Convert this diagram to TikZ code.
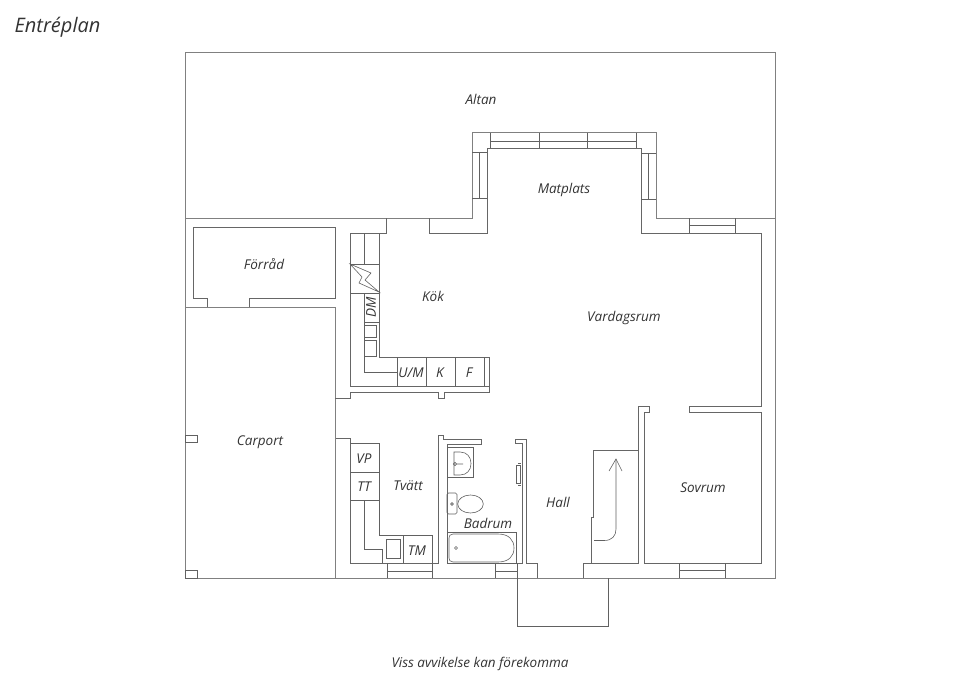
\documentclass[tikz,border=0pt]{standalone}
\usepackage{fontspec}
\setmainfont{Open Sans}
\tikzset{
 x=1pt,y=-1pt,
 outer/.style={draw=black!50,line width=1pt,line join=miter},
 wall/.style={draw=black!60,line width=.8pt,line join=miter},
 thin/.style={draw=black!62,line width=.6pt},
 lab/.style={font=\itshape\fontsize{13.5}{15}\selectfont,text=black!80,inner sep=0pt},
}
\begin{document}
\begin{tikzpicture}
\useasboundingbox (0,0) rectangle (960,679);
% outer outline
\draw[outer] (185,218)--(185,53)--(775,53)--(775,578)--(185,578)--(185,218);
\draw[outer] (185,218)--(472,218)--(472,133)--(656,133)--(656,218)--(775,218);
\draw[outer] (185,307)--(335,307)--(335,578);
% bay inner wall
\draw[wall] (386,218)--(386,233)--(350,233)--(350,386)--(489,386);
\draw[wall] (429,218)--(429,233)--(487,233)--(487,148)--(641,148)--(641,233)--(761,233)--(761,406)--(689,406)--(689,412)--(761,412)--(761,563)--(644,563)--(644,412)--(649,412)--(649,406)--(638,406)--(638,563)--(583,563)--(583,578);
% bay windows
\draw[thin] (490,133)--(490,148) (636,133)--(636,148) (539,133)--(539,148) (587,133)--(587,148) (490,141)--(636,141);
\draw[thin] (472,152)--(487,152) (472,198)--(487,198) (479,152)--(479,198);
\draw[thin] (641,153)--(656,153) (641,199)--(656,199) (648,153)--(648,199);
\draw[thin] (689,218)--(689,233) (735,218)--(735,233) (689,225)--(735,225);
% kitchen
\draw[wall] (335,398)--(350,398)--(350,392)--(438,392)--(438,398)--(444,398)--(444,392)--(489,392)--(489,357)--(379,357)--(379,233);
\draw[thin] (364,233)--(364,264) (350,264)--(379,264) (350,293)--(379,293);
\draw[thin] (350,264)--(362,277)--(359,283)--(379,292)--(365,280)--(371,273)--cycle;
\draw[thin] (364,293)--(364,372)--(397,372) (364,322)--(379,322);
\draw[thin] (364,325) rectangle (376,337) (364,340) rectangle (376,356);
\draw[thin] (397,357)--(397,386) (426,357)--(426,386) (455,357)--(455,386) (484,357)--(484,386);
% storage
\draw[wall] (207,307)--(207,298)--(193.5,298)--(193.5,227)--(335,227)--(335,298)--(249,298)--(249,307);
% carport marks
\draw[thin] (185,435) rectangle (197,442.5) (185,570) rectangle (197,578);
% laundry
\draw[wall] (336,438)--(350,438)--(350,563)--(438,563)--(438,435)--(443,435)--(443,439)--(481,439)--(481,444)--(447,444)--(447,563)--(522,563)--(522,443)--(515,443)--(515,439)--(526,439)--(526,563)--(537,563)--(537,578);
\draw[thin] (350,443)--(379,443)--(379,535)--(432.5,535)--(432.5,563) (350,472)--(379,472) (350,500)--(379,500);
\draw[thin] (364,500)--(364,549)--(382,549)--(382,563) (403,535)--(403,563);
\draw[thin] (386,539) rectangle (400,558);
\draw[thin] (387,563)--(387,578) (432.5,563)--(432.5,578) (387,571)--(432.5,571);
\draw[thin] (495,563)--(495,578) (495,571)--(517,571);
\draw[thin] (517,563)--(517,626)--(608,626)--(608,578);
% bathroom fixtures
\draw[thin] (447,447) rectangle (473,477);
\draw[thin] (454,452)--(460,452) .. controls (467,452) and (471,457) .. (471,463.5) .. controls (471,470) and (467,475) .. (460,475)--(454,475)--cycle;
\draw[thin] (455,464) circle[radius=1.6] (456.5,464)--(463,464);
\draw[thin,rounded corners=1.5pt] (447,493) rectangle (457,514);
\draw[thin] (452,504) circle[radius=1.4];
\draw[thin] (470.5,504) ellipse[x radius=12.8,y radius=9];
\draw[thin] (447,532) rectangle (516,563);
\draw[thin] (453,534)--(498,534) .. controls (509,534) and (514,540) .. (514,548) .. controls (514,556) and (509,562) .. (498,562)--(453,562) .. controls (450,562) and (449,560) .. (449,558)--(449,538) .. controls (449,536) and (450,534) .. (453,534);
\draw[thin] (456,548) circle[radius=1.5];
\draw[thin] (516,465) rectangle (520.5,483) (518,463)--(521,463) (518,485)--(521,485);
% bedroom window
\draw[thin] (679,563)--(679,578) (725,563)--(725,578) (679,570)--(725,570);
% stairs
\draw[wall] (638,450.5)--(593,450.5)--(593,517)--(591,517)--(591,563);
\draw[thin] (594,540.5)--(604,540.5) .. controls (612,540.5) and (616,536) .. (616,529)--(616,459);
\draw[thin] (609,471)--(616,459)--(622,471);
% labels
\node[lab,font=\itshape\fontsize{20}{22}\selectfont] (title) at (57.5,27) {Entréplan};
\node[lab] (altan) at (481,99) {Altan};
\node[lab] (matplats) at (564,190) {Matplats};
\node[lab] (forrad) at (264,264) {Förråd};
\node[lab] (kok) at (433,296) {Kök};
\node[lab] (vardagsrum) at (624,318) {Vardagsrum};
\node[lab,rotate=90] (dm) at (371,307) {DM};
\node[lab] (um) at (411,373) {U/M};
\node[lab] (k) at (440,373) {K};
\node[lab] (f) at (469,373) {F};
\node[lab] (carport) at (260,442) {Carport};
\node[lab] (vp) at (364,459) {VP};
\node[lab] (tt) at (364,487) {TT};
\node[lab] (tvatt) at (408,486) {Tvätt};
\node[lab] (tm) at (417,551) {TM};
\node[lab] (badrum) at (488,523) {Badrum};
\node[lab] (hall) at (558,502) {Hall};
\node[lab] (sovrum) at (703,488) {Sovrum};
\node[lab] (viss) at (480,664) {Viss avvikelse kan förekomma};
\end{tikzpicture}
\end{document}
